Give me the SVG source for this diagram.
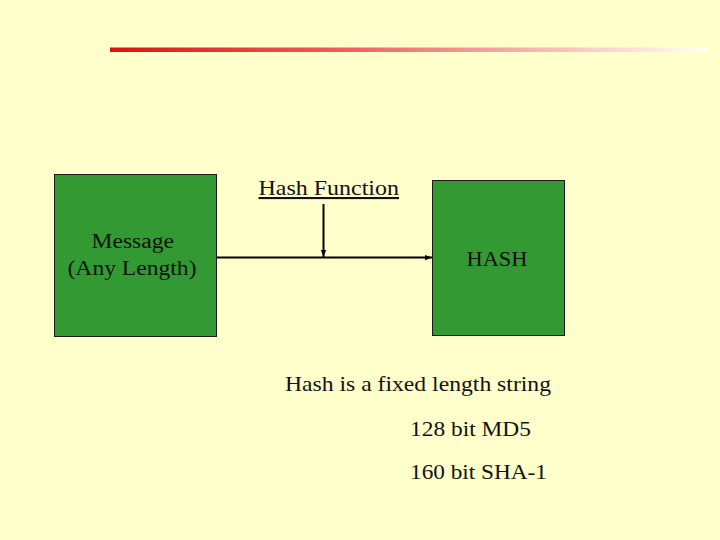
<svg xmlns="http://www.w3.org/2000/svg" width="720" height="540" viewBox="0 0 720 540">
  <defs>
    <linearGradient id="redfade" x1="0" y1="0" x2="1" y2="0">
      <stop offset="0" stop-color="#E01010"/>
      <stop offset="0.4" stop-color="#F06060"/>
      <stop offset="0.75" stop-color="#F8C0B8"/>
      <stop offset="1" stop-color="#FFFFF4"/>
    </linearGradient>
    <marker id="arrow" viewBox="0 0 8 8" refX="8" refY="4" markerWidth="7" markerHeight="7" markerUnits="userSpaceOnUse" orient="auto">
      <path d="M0,1 L8,4 L0,7 Z" fill="#000"/>
    </marker>
    <style>
      .box { fill: #339933; stroke: #1a1a1a; stroke-width: 1; }
      .t { font-family: 'Liberation Serif', 'DejaVu Serif', serif; fill: #111; }
      .conn { stroke: #000; stroke-width: 2; fill: none; }
    </style>
  </defs>
  <rect width="720" height="540" fill="#FFFFCC"/>
  <rect x="110" y="47.5" width="598" height="4.5" fill="url(#redfade)"/>

  <g id="message">
    <rect class="box" x="54.5" y="174.5" width="162" height="162"/>
    <text class="t" font-family="Liberation Serif, serif" x="91.5" y="248" font-size="20" textLength="82.5" lengthAdjust="spacingAndGlyphs">Message</text>
    <text class="t" font-family="Liberation Serif, serif" x="67.5" y="275" font-size="20" textLength="129" lengthAdjust="spacingAndGlyphs">(Any Length)</text>
  </g>

  <g id="hash">
    <rect class="box" x="432.5" y="180.5" width="132" height="155"/>
    <text class="t" font-family="Liberation Serif, serif" x="466.5" y="266" font-size="22" textLength="61" lengthAdjust="spacingAndGlyphs">HASH</text>
  </g>

  <g id="hash-function">
    <text class="t" font-family="Liberation Serif, serif" x="258.5" y="195" font-size="21" textLength="140.5" lengthAdjust="spacingAndGlyphs" text-decoration="underline">Hash Function</text>
  </g>

  <g id="connectors">
    <line class="conn" x1="217" y1="257.5" x2="432" y2="257.5" marker-end="url(#arrow)"/>
    <line class="conn" x1="323.5" y1="204" x2="323.5" y2="257" marker-end="url(#arrow)"/>
  </g>

  <g id="notes">
    <text class="t" font-family="Liberation Serif, serif" x="285" y="391" font-size="22" textLength="266" lengthAdjust="spacingAndGlyphs">Hash is a fixed length string</text>
    <text class="t" font-family="Liberation Serif, serif" x="410" y="436" font-size="22" textLength="121" lengthAdjust="spacingAndGlyphs">128 bit MD5</text>
    <text class="t" font-family="Liberation Serif, serif" x="410" y="478.5" font-size="22" textLength="137" lengthAdjust="spacingAndGlyphs">160 bit SHA-1</text>
  </g>
</svg>
